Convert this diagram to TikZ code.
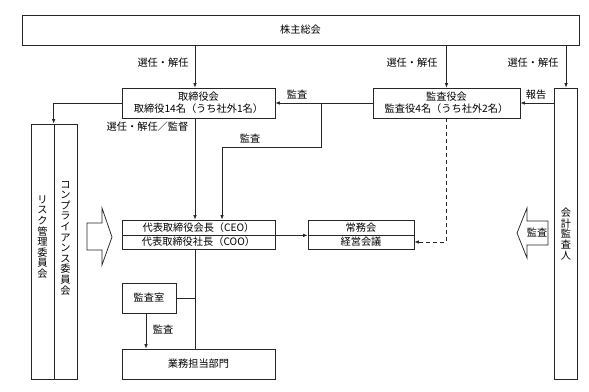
\documentclass[tikz,border=0pt]{standalone}
\usepackage{fontspec}
\setmainfont{Noto Sans CJK JP}
\usetikzlibrary{arrows.meta}
\newcommand\jpfs{\fontsize{10.2}{12}\selectfont}
\newcommand\jpvert{\fontsize{10.2}{10.6}\selectfont}
\begin{document}
\begin{tikzpicture}[x=1pt,y=-1pt,
  ln/.style={draw=black!85, line width=0.75pt},
  box/.style={ln, inner sep=0pt, align=center, font=\jpfs},
  lbl/.style={inner sep=0pt, font=\jpfs},
  vlbl/.style={inner sep=0pt, align=center, font=\jpvert},
  arr/.style={ln, -{Latex[length=4.5pt,width=3.5pt]}},
  blockarrow/.style={ln, fill=white, line join=miter}
]
\useasboundingbox (0,0) rectangle (589,391);

% boxes
\node[box, minimum width=557pt, minimum height=30pt] (top) at (300.5,30) {株主総会};
\node[box, minimum width=153pt, minimum height=30pt] (board) at (198.5,103) {取締役会\\取締役14名（うち社外1名）};
\node[box, minimum width=147pt, minimum height=30pt] (audit) at (446.5,103) {監査役会\\監査役4名（うち社外2名）};
\node[box, minimum width=23pt, minimum height=291pt] (acct) at (566,233.5) {};
\node[vlbl] (acctt) at (566,234) {会\\計\\監\\査\\人};

\node[box, minimum width=23pt, minimum height=255pt] (risk) at (42.5,251.5) {};
\node[box, minimum width=23pt, minimum height=255pt] (comp) at (65.5,251.5) {};
\node[vlbl] (riskt) at (42.5,237) {リ\\ス\\ク\\管\\理\\委\\員\\会};
\node[vlbl] (compt) at (65.5,238) {コ\\ン\\プ\\ラ\\イ\\ア\\ン\\ス\\委\\員\\会};

\node[box, minimum width=153pt, minimum height=15pt] (ceo1) at (198.5,227.5) {代表取締役会長（CEO）};
\node[box, minimum width=153pt, minimum height=14pt] (ceo2) at (198.5,242) {代表取締役社長（COO）};
\node[box, minimum width=106pt, minimum height=15pt] (jomu1) at (361,227.5) {常務会};
\node[box, minimum width=106pt, minimum height=14pt] (jomu2) at (361,242) {経営会議};

\node[box, minimum width=54pt, minimum height=30pt] (room) at (149,298) {監査室};
\node[box, minimum width=153pt, minimum height=30pt] (dept) at (198.5,364) {業務担当部門};

% helper coordinates
\coordinate (c1) at (195,0);
\coordinate (j1) at (321,103);
\coordinate (bend) at (222,147);
\coordinate (c2) at (146,0);

% connectors
\draw[arr] (top.south -| c1) -- (board.north -| c1);
\draw[arr] (top.south -| audit.north) -- (audit.north);
\draw[arr] (top.south -| acct.north) -- (acct.north);
\draw[arr] (acct.west |- audit.east) -- (audit.east);
\draw[arr] (audit.west) -- (board.east);
\draw[arr] (j1) -- (j1 |- bend) -- (bend) -- (ceo1.north -| bend);
\draw[arr] (board.west) -| (comp.north west);
\draw[arr] (board.south -| c1) -- (ceo1.north -| c1);
\draw[arr] (ceo1.south east) -- (jomu1.south west);
\draw[arr, dash pattern=on 4pt off 3pt] (audit.south) -- (audit.south |- jomu2.east) -- (jomu2.east);
\draw[ln] (ceo2.south -| c1) -- (dept.north -| c1);
\draw[ln] (room.east) -- (room.east -| c1);
\draw[arr] (room.south -| c2) -- (dept.north -| c2);

% labels
\node[lbl] (l1) at (163,63) {選任・解任};
\node[lbl] (l2) at (412,63) {選任・解任};
\node[lbl] (l3) at (533,63) {選任・解任};
\node[lbl] (l4) at (297,95) {監査};
\node[lbl] (l5) at (536,95) {報告};
\node[lbl] (l6) at (147.5,127) {選任・解任／監督};
\node[lbl] (l7) at (250,139) {監査};
\node[lbl] (l8) at (163,330) {監査};

% block arrows
\draw[blockarrow] (87,223) -- (102,223) -- (102,208) -- (112,237) -- (102,265) -- (102,250) -- (87,250) -- cycle;
\draw[blockarrow] (548,221) -- (527,221) -- (527,208) -- (517,233) -- (527,258) -- (527,245) -- (548,245) -- cycle;
\node[lbl] (l9) at (537,233) {監査};
\end{tikzpicture}
\end{document}
